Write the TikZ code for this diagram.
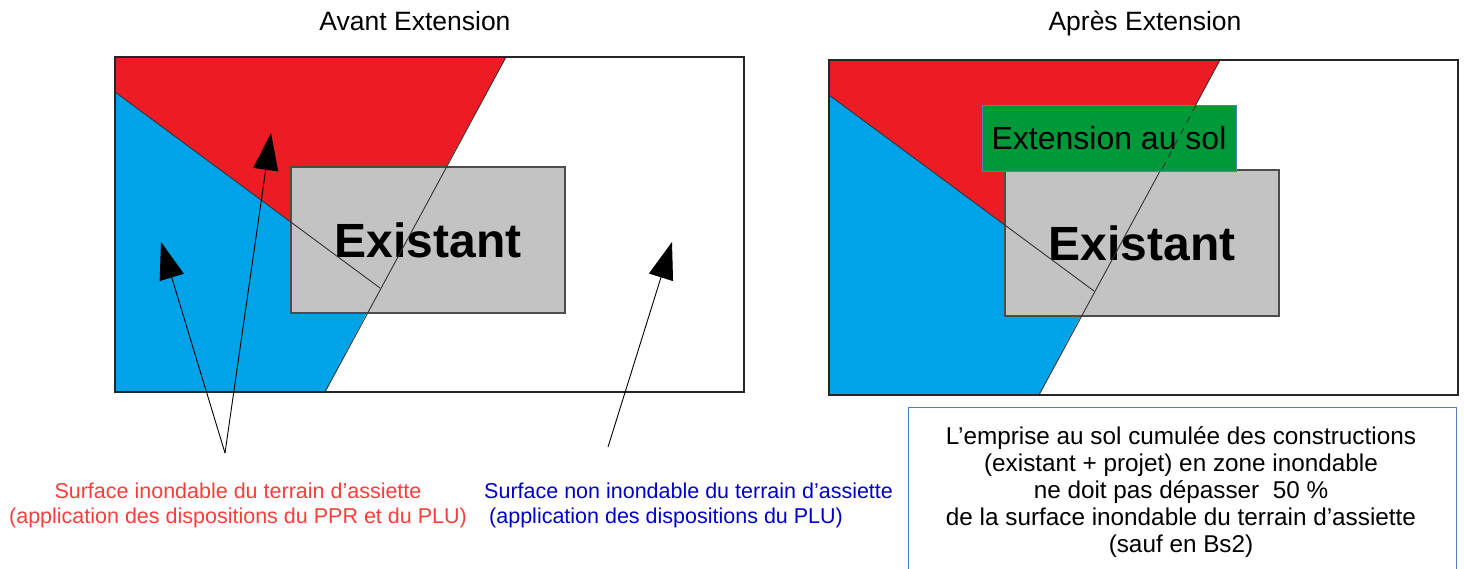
\documentclass[tikz,border=0pt]{standalone}
\usepackage{fontspec}
\setmainfont{Liberation Sans}
\usetikzlibrary{arrows.meta}
\definecolor{paintred}{RGB}{237,28,36}
\definecolor{paintblue}{RGB}{0,162,232}
\definecolor{existgray}{RGB}{195,195,195}
\definecolor{extgreen}{RGB}{0,153,58}
\definecolor{boxblue}{RGB}{79,129,189}
\definecolor{labelred}{RGB}{255,60,60}
\definecolor{labelblue}{RGB}{0,0,204}
\tikzset{
    frame/.style={draw=black!85, line width=1.3pt},
    border/.style={black!80, line width=0.9pt},
    existbox/.style={draw=black!70, line width=1.2pt, fill=existgray, minimum width=274pt,
        minimum height=146pt, inner sep=0pt, font=\fontsize{48}{50}\selectfont\bfseries},
    extbox/.style={draw=boxblue, line width=0.8pt, fill=extgreen, minimum width=254pt,
        minimum height=66pt, inner sep=0pt, font=\fontsize{32}{36}\selectfont},
    titre/.style={anchor=base, font=\fontsize{26.5}{28}\selectfont},
    bigarrow/.style={-{Triangle[length=37pt,width=25pt]}, line width=0.9pt}
}
\begin{document}
\begin{tikzpicture}[x=1pt, y=-1pt, font=\fontsize{21.5}{25}\selectfont]
        \useasboundingbox (0,0) rectangle (1464,569);

        \foreach \dx/\dy/\name in {0/0/avant, 714/3/apres}
        {
            \begin{scope}[shift={(\dx,\dy)}]
                \fill[paintred] (115,57) -- (506,57) -- (380,288) -- (115,92) -- cycle;
                \fill[paintblue] (115,92) -- (380,288) -- (325,392) -- (115,392) -- cycle;
                \node[existbox] (exist-\name) at (428,240) {Existant};
                \draw[border] (115,92) -- (380,288);
                \draw[border] (506,57) -- (325,392);
                \draw[frame] (115,57) rectangle (744,392);
            \end{scope}
        }

        \node[titre] (titre-avant) at (415,31) {Avant Extension};
        \node[titre] (titre-apres) at (1145,31) {Après Extension};

        \node[extbox] (extension) at (1109,138) {Extension au sol};
        \draw[border, dashed, dash pattern=on 7pt off 6pt] (1196,105) -- (1161,171);

        \coordinate (tip-bleu) at (161,242);
        \coordinate (tip-rouge) at (271,133);
        \coordinate (tip-blanc) at (672,242);
        \coordinate (pied-inond) at (225,453);
        \coordinate (pied-non) at (608,447);
        \draw[bigarrow] (pied-inond) -- (tip-bleu);
        \draw[bigarrow] (pied-inond) -- (tip-rouge);
        \draw[bigarrow] (pied-non) -- (tip-blanc);

        \node[labelred, align=center] (label-inond) at (238,505)
            {Surface inondable du terrain d’assiette\\(application des dispositions du PPR et du PLU)};
        \node[labelblue, align=left, anchor=west, inner sep=0pt] (label-non) at (484,505)
            {Surface non inondable du terrain d’assiette\\\hspace*{5pt}(application des dispositions du PLU)};

        \draw[boxblue, line width=1pt] (908,569) -- (908,407) -- (1456,407) -- (1456,569);
        \node[align=center, font=\fontsize{24.3}{26.8}\selectfont] (regle) at (1181,492)
            {L’emprise au sol cumulée des constructions\\(existant + projet) en zone inondable\\ne doit pas dépasser~ 50 \%\\de la surface inondable du terrain d’assiette\\(sauf en Bs2)};
    \end{tikzpicture}
\end{document}
